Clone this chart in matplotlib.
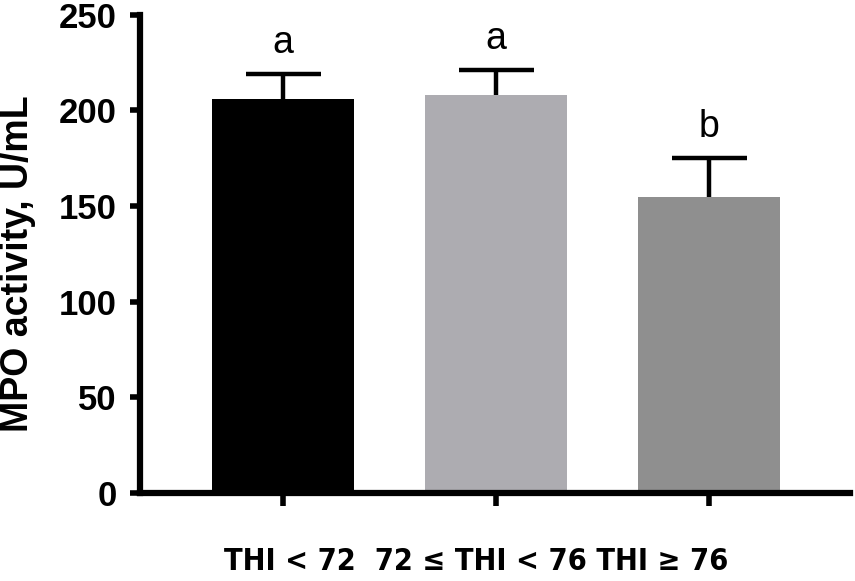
import matplotlib
matplotlib.use("Agg")
import matplotlib.pyplot as plt

categories = ["THI < 72", "72 \u2264 THI < 76", "THI \u2265 76"]
means = [206, 208, 155]
errors = [13, 13, 20]
letters = ["a", "a", "b"]
colors = ["#000000", "#adacb1", "#8f8f8f"]
yticks = [0, 50, 100, 150, 200, 250]

fig = plt.figure(figsize=(8.55, 5.81), dpi=100)
ax = fig.add_axes([0.164, 0.1515, 0.830, 0.823])

x = list(range(len(categories)))
ax.bar(x, means, width=0.667, color=colors, edgecolor="none", zorder=2)
eb = ax.errorbar(x, means, yerr=[[0] * len(errors), errors], fmt="none",
                 ecolor="black", elinewidth=3.2, capsize=27, capthick=3.2,
                 zorder=3)
eb[1][0].set_visible(False)

for xi, m, e, l in zip(x, means, errors, letters):
    ax.text(xi, m + e + 11, l, ha="center", va="baseline", fontsize=27,
            family="Liberation Sans")

ax.set_xlim(-0.671, 2.662)
ax.set_ylim(0, 250)
ax.set_yticks(yticks)
ax.set_yticklabels([str(v) for v in yticks], fontsize=25, fontweight="bold",
                   family="Liberation Sans")
ax.set_xticks(x)
ax.set_xticklabels([""] * len(x))

for side in ["top", "right"]:
    ax.spines[side].set_visible(False)
for side in ["left", "bottom"]:
    ax.spines[side].set_linewidth(4.5)
ax.tick_params(axis="y", direction="out", length=7, width=4, pad=10)
ax.tick_params(axis="x", direction="out", length=9, width=4)

ax.set_ylabel("MPO activity, U/mL", fontsize=27, fontweight="bold",
              family="Liberation Sans")
ax.yaxis.set_label_coords(-0.147, 0.48)

xlabel = categories[0] + "  " + categories[1] + " " + categories[2]
fig.text(0.557, 0.019, xlabel, ha="center", va="baseline", fontsize=22,
         fontweight="bold", family="DejaVu Sans", fontstretch="condensed")

fig.savefig("out.png", dpi=100)
